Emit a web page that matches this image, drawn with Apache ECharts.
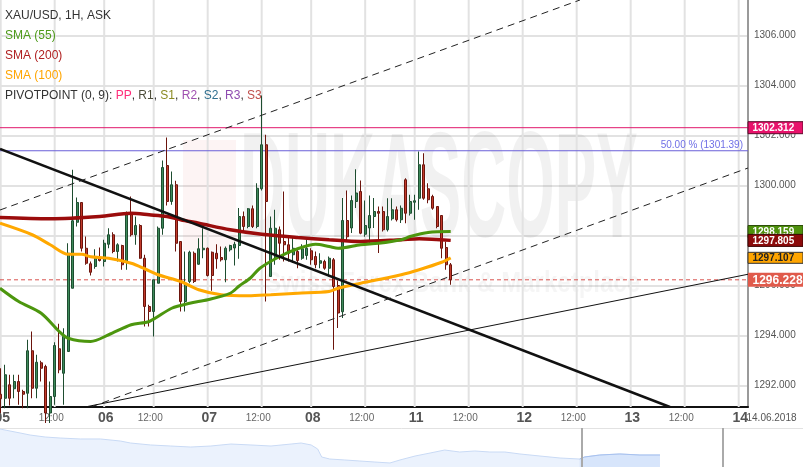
<!DOCTYPE html>
<html><head><meta charset="utf-8">
<script src="https://cdn.jsdelivr.net/npm/echarts@6/dist/echarts.min.js"></script>
<style>html,body{margin:0;padding:0;background:#fff}#c{width:803px;height:467px}</style>
</head><body><div id="c"></div>
<script>
// x axis: one slot per hourly candle (gold has a daily break, weekend compressed)
const tickSlots = [0,12,23,34,46,58,69,81,92,104,116,128,140,152,164];
const tickLabels = ['05','12:00','06','12:00','07','12:00','08','12:00','11','12:00','12','12:00','13','12:00','14'];
const xMin = -0.156, xMax = 166.07;
const yMin = 1291.14, yMax = 1307.42;

// [open, close, low, high] per hourly slot, from 05 00:00
const ohlc = [
[1291.65,1291.47,1290.90,1292.69],[1291.49,1292.43,1291.09,1292.83],[1292.03,1291.49,1291.20,1292.43],
[1291.87,1292.16,1291.49,1292.43],[1292.16,1291.76,1291.23,1292.43],[1291.76,1291.65,1291.09,1291.83],
[1291.69,1293.39,1291.09,1293.83],[1293.39,1291.89,1291.49,1294.16],[1291.89,1292.93,1291.49,1293.23],
[1292.91,1292.69,1292.16,1292.99],[1292.76,1290.90,1290.50,1292.83],[1290.90,1291.56,1290.50,1292.16],
[1291.56,1293.60,1291.23,1293.73],[1293.47,1292.63,1292.49,1294.47],[1292.49,1293.96,1291.23,1294.29],
[1293.36,1297.29,1293.36,1297.69],[1295.89,1298.59,1295.89,1300.63],[1298.53,1299.32,1298.36,1299.52],
[1299.32,1297.49,1297.36,1299.32],[1297.49,1296.89,1296.83,1297.96],[1296.87,1296.53,1296.40,1296.96],
[1296.76,1297.09,1296.67,1297.45],[1297.09,1297.00,1296.96,1297.52],[1296.96,1297.69,1296.76,1297.83],
[1297.65,1298.03,1297.49,1298.29],[1298.03,1297.36,1297.29,1298.13],[1297.36,1297.63,1296.96,1297.69],
[1297.60,1296.83,1296.63,1297.63],[1296.96,1298.83,1296.63,1298.96],[1298.83,1298.03,1297.96,1299.56],
[1298.03,1298.40,1297.63,1298.76],[1298.40,1297.09,1297.07,1298.45],[1297.09,1295.16,1294.36,1297.23],
[1295.16,1294.96,1294.36,1295.23],[1294.96,1296.23,1293.96,1296.23],[1296.09,1298.29,1296.09,1298.36],
[1298.29,1300.72,1298.03,1301.00],[1300.80,1299.36,1299.20,1301.92],[1299.36,1300.03,1299.23,1300.56],
[1300.03,1297.69,1297.36,1300.19],[1297.76,1295.36,1294.96,1297.76],[1295.36,1296.09,1294.96,1297.36],
[1296.16,1297.33,1296.09,1297.39],[1297.29,1296.16,1296.10,1297.36],[1296.85,1297.47,1296.83,1297.89],
[1297.43,1297.49,1297.09,1298.29],[1297.49,1296.40,1296.36,1297.52],[1297.33,1296.40,1295.79,1297.36],
[1297.29,1297.07,1296.67,1297.65],[1297.12,1297.03,1296.96,1297.56],[1297.03,1297.49,1296.13,1297.56],
[1297.43,1297.60,1297.36,1297.63],[1297.50,1297.65,1296.80,1297.75],[1297.60,1298.76,1297.07,1299.10],
[1298.76,1298.36,1298.16,1298.96],[1298.36,1299.07,1298.29,1299.10],[1299.07,1298.36,1298.30,1299.20],
[1298.36,1299.89,1298.29,1300.09],[1299.87,1301.63,1299.80,1303.60],[1301.63,1299.36,1295.36,1302.03],
[1296.36,1298.29,1296.36,1298.76],[1297.09,1298.29,1296.83,1299.03],[1298.23,1297.69,1297.03,1298.36],
[1297.76,1297.63,1296.96,1299.76],[1297.63,1297.29,1296.96,1297.96],[1297.23,1297.49,1296.90,1297.96],
[1297.36,1297.00,1296.69,1297.49],[1297.09,1297.47,1297.03,1297.65],[1297.20,1297.49,1297.03,1297.83],
[1297.39,1297.03,1296.83,1297.49],[1297.16,1296.83,1296.69,1297.36],[1296.89,1296.99,1296.69,1297.29],
[1296.96,1296.69,1296.63,1297.03],[1296.69,1297.09,1296.36,1297.16],[1297.03,1295.96,1293.43,1297.10],
[1296.00,1294.90,1294.30,1296.20],[1294.95,1298.60,1294.70,1299.50],[1298.60,1297.95,1297.75,1299.80],
[1298.30,1299.40,1298.10,1299.60],[1299.36,1299.70,1299.10,1300.65],[1299.76,1298.09,1298.05,1300.20],
[1298.05,1298.40,1297.95,1299.40],[1298.30,1298.80,1297.70,1299.60],[1298.76,1298.96,1298.30,1299.50],
[1298.96,1298.89,1297.30,1299.16],[1298.96,1298.23,1298.16,1299.16],[1298.23,1298.76,1298.16,1299.49],
[1298.67,1299.03,1298.60,1299.49],[1299.03,1298.63,1298.56,1299.16],[1298.63,1299.09,1298.50,1299.20],
[1300.23,1298.89,1298.49,1300.29],[1298.89,1299.36,1298.80,1299.63],[1299.33,1299.39,1298.63,1299.63],
[1299.49,1300.83,1299.03,1301.36],[1300.83,1299.49,1299.43,1301.29],[1299.87,1299.43,1299.29,1300.09],
[1299.56,1299.09,1299.03,1299.63],[1299.16,1298.36,1298.29,1299.16],[1298.80,1297.49,1297.09,1298.80],
[1297.52,1296.83,1296.63,1297.76],[1296.83,1296.228,1296.03,1296.90]
];

// moving averages: [slot, value]
const sma55 = [[-0.16,1295.89],[4,1295.36],[9,1294.89],[13,1294.16],[15,1293.89],[20,1293.76],[24,1294.03],[29,1294.43],[33,1294.56],[38,1295.09],[42,1295.29],[46,1295.43],[51,1295.69],[53,1295.98],[55.5,1296.3],[57.6,1296.69],[62,1297.16],[66,1297.47],[70,1297.65],[73,1297.56],[75,1297.49],[80,1297.63],[84,1297.69],[89,1297.83],[91,1297.96],[95,1298.12],[100,1298.159]];
const sma200 = [[-0.16,1298.72],[11,1298.67],[22,1298.76],[29,1298.89],[33,1298.83],[37,1298.76],[40,1298.63],[44,1298.49],[51,1298.23],[58,1298.05],[66,1297.92],[73,1297.83],[80,1297.76],[89,1297.83],[93,1297.87],[100,1297.805]];
const sma100 = [[-0.16,1298.49],[7,1298.03],[11,1297.63],[15,1297.25],[18,1297.25],[20,1297.15],[24,1297.09],[29,1296.89],[32,1296.67],[35,1296.43],[40,1296.16],[44,1295.83],[49,1295.63],[55,1295.59],[60,1295.63],[66,1295.69],[73,1295.76],[75,1295.89],[80,1296.09],[89,1296.43],[93,1296.63],[98,1296.93],[100,1297.107]];

// drawn trend lines: [slot, price]
const trendThick = [[-0.156,1301.46],[148.73,1291.14]];
const trendThin = [[18.73,1291.14],[166.07,1296.45]];
const channelUpper = [[-0.156,1299.02],[128.73,1307.42]];
const channelLower = [[20.07,1291.14],[166.07,1300.70]];

// horizontal levels
const pivotLevel = 1302.312;
const fibLevel = 1301.39;
const lastPrice = 1296.228;

// price tags on the right axis
const tagValues = [1302.312, 1298.159, 1297.805, 1297.107, 1296.228];
const tagTexts = ['1302.312','1298.159','1297.805','1297.107','1296.228'];

// navigator overview
const navTimes = [0,2,4,6,9,12,16,20,24,26,30,34,38,42,46,50,54,58,60,62,63.3,64.1,65.7,68.7,71.7,74.7,77.7,79.7,82.7,85.7,88.6,91.6,94.6,97.6,100.6,103.6,107.6,111.6,115.5,116.5,119.5,123.5,127.5,131.5];
const navValues = [1343.3,1340.0,1336.7,1333.3,1330.0,1328.3,1326.7,1326.7,1323.3,1320.0,1316.7,1315.0,1313.3,1315.0,1318.3,1316.7,1315.0,1318.3,1320.0,1316.7,1310.0,1296.7,1293.3,1291.7,1290.0,1288.3,1286.7,1291.7,1298.3,1303.3,1308.3,1305.0,1306.7,1305.0,1305.0,1301.7,1298.3,1295.0,1293.3,1296.7,1300.0,1301.7,1300.0,1300.0];
const navWindow = [116, 144];
const navYMin = 1280, navYMax = 1345;

const legendTexts = ['XAU/USD, 1H, ASK','SMA (55)','SMA (200)','SMA (100)'];

const FONT = '"Liberation Sans", Arial, Helvetica, sans-serif';
const GRID_COLOR = '#e2e2e2';
const labelMap = {};
tickSlots.forEach((s, i) => { labelMap[s] = tickLabels[i]; });

const chart = echarts.init(document.getElementById('c'), null, {renderer: 'canvas', width: 803, height: 467});

const navData = navTimes.map((t, i) => [t, navValues[i]]);
const navSelData = navData.filter(p => p[0] >= 115.5);

// vertical rule renderer (navigator handles), snapped to the pixel grid
function vRule(stroke, width, y0, y1) {
  return function (params, api) {
    const x = api.value(0);
    const a = api.coord([x, y0]);
    const b = api.coord([x, y1]);
    const xx = width % 2 === 1 ? Math.round(a[0]) + 0.5 : Math.round(a[0]);
    return {type: 'line', shape: {x1: xx, y1: a[1], x2: xx, y2: b[1]},
      style: {stroke: stroke, lineWidth: width}, silent: true};
  };
}

// vertical time grid lines at every labelled slot, as plain two-point line series
const timeGridSeries = tickSlots.map(s => ({
  type: 'line', xAxisIndex: 0, yAxisIndex: 0, data: [[s, yMin], [s, yMax]],
  showSymbol: false, silent: true, z: 1, lineStyle: {color: GRID_COLOR, width: 2}
}));

const option = {
  animation: false,
  backgroundColor: '#ffffff',
  grid: [
    {left: 0, top: 0, width: 748, height: 407, outerBoundsMode: 'none', containLabel: false},
    {left: 0, top: 428, width: 803, height: 39, outerBoundsMode: 'none', containLabel: false}
  ],
  xAxis: [{
    type: 'value', gridIndex: 0, min: xMin, max: xMax,
    axisLine: {show: true, onZero: false, lineStyle: {color: '#111', width: 2}},
    axisTick: {show: false, customValues: tickSlots},
    axisLabel: {
      customValues: tickSlots, margin: 4,
      formatter: v => { const t = labelMap[Math.round(v)]; return t === '12:00' ? '{h|12:00}' : '{d|' + t + '}'; },
      rich: {
        d: {fontFamily: FONT, fontSize: 14, fontWeight: 'bold', color: '#555', lineHeight: 15, padding: [0, 0, 0, 3]},
        h: {fontFamily: FONT, fontSize: 10, color: '#666', lineHeight: 15, padding: [0, 7, 0, 0]}
      }
    },
    splitLine: {show: false}
  }, {
    type: 'value', gridIndex: 1, min: 0, max: 160, position: 'top',
    axisLine: {show: true, onZero: false, lineStyle: {color: '#e2e2e2'}},
    axisTick: {show: false}, axisLabel: {show: false}, splitLine: {show: false}
  }],
  yAxis: [{
    type: 'value', gridIndex: 0, position: 'right', min: yMin, max: yMax,
    splitNumber: 8, minInterval: 2, maxInterval: 2,
    axisLine: {show: true, onZero: false, lineStyle: {color: '#9a9a9a', width: 2}},
    axisTick: {show: false},
    axisLabel: {margin: 6, color: '#555', fontFamily: FONT, fontSize: 10,
      formatter: v => v.toFixed(3), showMinLabel: false, showMaxLabel: false},
    splitLine: {show: true, showMinLine: false, showMaxLine: false, lineStyle: {color: GRID_COLOR, width: 2}}
  }, {
    type: 'value', gridIndex: 1, min: navYMin, max: navYMax, show: false,
    axisLine: {show: false, onZero: false}
  }],
  series: [
    ...timeGridSeries,
    // horizontal levels
    {type: 'line', data: [[xMin, pivotLevel], [xMax, pivotLevel]], showSymbol: false, z: 2, silent: true,
      lineStyle: {color: '#e0186c', width: 1}},
    {type: 'line', data: [[xMin, fibLevel], [xMax, fibLevel]], showSymbol: false, z: 2, silent: true,
      lineStyle: {color: '#6a5fd8', width: 1}},
    {type: 'line', data: [[xMin, lastPrice], [xMax, lastPrice]], showSymbol: false, z: 2, silent: true,
      lineStyle: {color: '#d9534f', width: 1, type: [4, 3]}},
    {
      type: 'candlestick', xAxisIndex: 0, yAxisIndex: 0, z: 3,
      data: ohlc.map((d, i) => [i, d[0], d[1], d[2], d[3]]),
      encode: {x: 0, y: [1, 2, 3, 4]},
      barWidth: 2.6,
      itemStyle: {color: '#3d8a5a', color0: '#c23b2c', borderColor: '#1e4d30', borderColor0: '#6b140c', borderWidth: 1}
    },
    {type: 'line', name: 'SMA200', data: sma200, smooth: 0.3, showSymbol: false, z: 4,
      lineStyle: {color: '#9b0c0c', width: 3.5}},
    {type: 'line', name: 'SMA100', data: sma100, smooth: 0.3, showSymbol: false, z: 4,
      lineStyle: {color: '#ffa800', width: 3}},
    {type: 'line', name: 'SMA55', data: sma55, smooth: 0.3, showSymbol: false, z: 4,
      lineStyle: {color: '#4c960e', width: 3}},
    {type: 'line', data: trendThick, showSymbol: false, z: 5, lineStyle: {color: '#111', width: 2.5}},
    {type: 'line', data: channelUpper, showSymbol: false, z: 5, lineStyle: {color: '#222', width: 1, type: [7, 5]}},
    {type: 'line', data: channelLower, showSymbol: false, z: 5, lineStyle: {color: '#222', width: 1, type: [7, 5]}},
    {type: 'line', data: trendThin, showSymbol: false, z: 5, lineStyle: {color: '#111', width: 1}},
    {type: 'line', xAxisIndex: 1, yAxisIndex: 1, data: navData, showSymbol: false,
      lineStyle: {color: '#c9daf5', width: 1}, areaStyle: {color: '#ebf2fd', opacity: 1}},
    {type: 'line', xAxisIndex: 1, yAxisIndex: 1, data: navSelData, showSymbol: false,
      lineStyle: {color: '#a7c1ef', width: 1}, areaStyle: {color: '#d7e5fb', opacity: 1}},
    {type: 'custom', xAxisIndex: 1, yAxisIndex: 1, z: 5, silent: true,
      data: navWindow.map(x => [x, navYMin]), encode: {x: 0, y: 1},
      renderItem: vRule('#aaaaaa', 2, navYMin, navYMax)}
  ]
};
chart.setOption(option);

const px = v => chart.convertToPixel({xAxisIndex: 0}, v);
const py = v => chart.convertToPixel({yAxisIndex: 0}, v);
const tagStyles = [
  {bg: '#e8126b', fg: '#fff', stroke: '#5a0a2a', h: 12, size: 10},
  {bg: '#4e910c', fg: '#fff', stroke: '#2c4d0a', h: 12, size: 10},
  {bg: '#8c0b0b', fg: '#fff', stroke: '#3a0505', h: 12, size: 10},
  {bg: '#ffa500', fg: '#222', stroke: '#333333', h: 11, size: 10},
  {bg: '#e05a4b', fg: '#fff', stroke: null, h: 14, size: 12}
];
const els = [];
// watermark
els.push({type: 'rect', z: 1, silent: true, shape: {x: 183, y: 140, width: 53, height: 110},
  style: {fill: 'rgba(214,30,30,0.05)'}});
els.push({type: 'text', z: 1, silent: true, x: 240, y: 196, scaleX: 0.415,
  style: {text: 'DUKASCOPY', fill: 'rgba(0,0,0,0.055)', font: 'bold 150px ' + FONT, align: 'left', verticalAlign: 'middle', textAlign: 'left', textVerticalAlign: 'middle'}});
els.push({type: 'text', z: 1, silent: true, x: 640, y: 284, scaleX: 0.8,
  style: {text: 'Swiss Forex Bank & Marketplace', fill: 'rgba(0,0,0,0.04)', font: 'bold 30px ' + FONT, align: 'right', verticalAlign: 'middle', textAlign: 'right', textVerticalAlign: 'middle'}});
// fib level label
els.push({type: 'text', z: 50, x: px(xMax) - 5, y: py(fibLevel) - 1,
  style: {text: '50.00 % (' + fibLevel.toFixed(2) + ')', fill: '#6f6fe6', font: '10px ' + FONT, align: 'right', verticalAlign: 'bottom', textAlign: 'right', textVerticalAlign: 'bottom'}});
// legend texts
const legendColors = ['#333333', '#4e9a1a', '#b02020', '#ffa500'];
const legendY = [15.7, 36, 55.5, 75.5];
legendTexts.forEach((t, i) => {
  els.push({type: 'text', z: 50, x: 5, y: legendY[i],
    style: {text: t, fill: legendColors[i], font: '12px ' + FONT, verticalAlign: 'middle', textVerticalAlign: 'middle'}});
});
els.push({type: 'text', z: 50, x: 5, y: 96,
  style: {
    text: '{d|PIVOTPOINT (0, 9): }{pp|PP}{d|, }{r1|R1}{d|, }{s1|S1}{d|, }{r2|R2}{d|, }{s2|S2}{d|, }{r3|R3}{d|, }{s3|S3}',
    font: '12px ' + FONT, verticalAlign: 'middle', textVerticalAlign: 'middle',
    rich: {
      d: {fill: '#333', font: '12px ' + FONT}, pp: {fill: '#ff2d7a', font: '12px ' + FONT},
      r1: {fill: '#4d4d3a', font: '12px ' + FONT}, s1: {fill: '#8a8a22', font: '12px ' + FONT},
      r2: {fill: '#a050b0', font: '12px ' + FONT}, s2: {fill: '#2f6f8f', font: '12px ' + FONT},
      r3: {fill: '#8e4bb0', font: '12px ' + FONT}, s3: {fill: '#c0504d', font: '12px ' + FONT}
    }
  }});
// date label at the end of the time axis
els.push({type: 'text', z: 50, x: 771.5, y: 418.5,
  style: {text: '14.06.2018', fill: '#555', font: '10px ' + FONT, align: 'center', verticalAlign: 'middle', textAlign: 'center', textVerticalAlign: 'middle'}});
// price tags
tagValues.forEach((v, i) => {
  const s = tagStyles[i];
  const y = py(v);
  els.push({type: 'rect', z: 100 + i * 2, shape: {x: 748, y: y - s.h / 2, width: 55, height: s.h},
    style: {fill: s.bg, stroke: s.stroke || null, lineWidth: s.stroke ? 1 : 0}});
  els.push({type: 'text', z: 101 + i * 2, x: 752.5, y: y + 0.5,
    style: {text: tagTexts[i], fill: s.fg, font: 'bold ' + s.size + 'px ' + FONT, verticalAlign: 'middle', textVerticalAlign: 'middle'}});
});
chart.setOption({graphic: {elements: els}});
</script>
</body></html>
